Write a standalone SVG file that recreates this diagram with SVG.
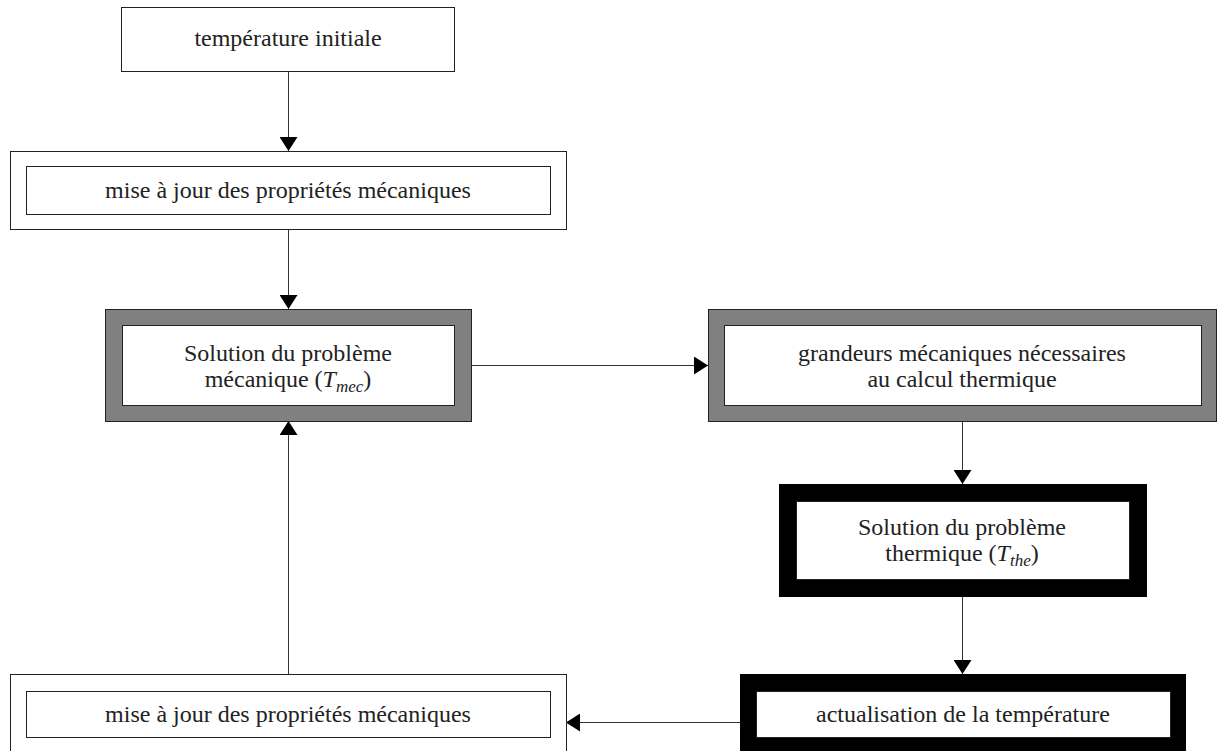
<svg xmlns="http://www.w3.org/2000/svg" width="1218" height="751" viewBox="0 0 1218 751">
<style>
text{font-family:"Liberation Serif","Times New Roman",serif;font-size:24px;fill:#222;text-anchor:middle}
.w{fill:#fff;stroke:#222;stroke-width:1}
.g{fill:#808080;stroke:#222;stroke-width:1}
.k{fill:#000;stroke:#000;stroke-width:1}
.c{stroke:#333;stroke-width:1;fill:none;marker-end:url(#ah)}
.i{font-style:italic}
.s{font-style:italic;font-size:17px}
</style>
<defs>
<marker id="ah" markerUnits="userSpaceOnUse" markerWidth="14" markerHeight="18" refX="14" refY="9" orient="auto">
<path d="M0,0 L14,9 L0,18 z" fill="#000"/>
</marker>
</defs>
<g id="connectors">
<line class="c" x1="288.5" y1="71" x2="288.5" y2="151"/>
<line class="c" x1="288.5" y1="230" x2="288.5" y2="309"/>
<line class="c" x1="471" y1="365.5" x2="708" y2="365.5"/>
<line class="c" x1="962.5" y1="421" x2="962.5" y2="484"/>
<line class="c" x1="962.5" y1="596" x2="962.5" y2="674"/>
<line class="c" x1="740" y1="722.5" x2="566" y2="722.5"/>
<line class="c" x1="288.5" y1="674" x2="288.5" y2="421"/>
</g>
<g id="n1">
<rect class="w" x="121.5" y="7.5" width="333" height="64"/>
<text x="288" y="46">température initiale</text>
</g>
<g id="n2">
<rect class="w" x="10.5" y="151.5" width="556" height="78"/>
<rect class="w" x="26.5" y="166.5" width="524" height="48"/>
<text x="288" y="198">mise à jour des propriétés mécaniques</text>
</g>
<g id="n3">
<rect class="g" x="105.5" y="309.5" width="366" height="112"/>
<rect class="w" x="122.5" y="325.5" width="332" height="80"/>
<text x="288" y="361">Solution du problème</text>
<text x="288" y="387">mécanique (<tspan class="i">T</tspan><tspan class="s" dy="5">mec</tspan><tspan dy="-5">)</tspan></text>
</g>
<g id="n4">
<rect class="g" x="708.5" y="309.5" width="508" height="112"/>
<rect class="w" x="724.5" y="325.5" width="477" height="80"/>
<text x="962" y="361">grandeurs mécaniques nécessaires</text>
<text x="962" y="387">au calcul thermique</text>
</g>
<g id="n5">
<rect class="k" x="779.5" y="484.5" width="367" height="112"/>
<rect class="w" x="796.5" y="501.5" width="333" height="78"/>
<text x="962" y="535">Solution du problème</text>
<text x="962" y="561">thermique (<tspan class="i">T</tspan><tspan class="s" dy="5">the</tspan><tspan dy="-5">)</tspan></text>
</g>
<g id="n6">
<rect class="k" x="740.5" y="674.5" width="445" height="96"/>
<rect class="w" x="756.5" y="691.5" width="414" height="46"/>
<text x="963" y="722">actualisation de la température</text>
</g>
<g id="n7">
<rect class="w" x="10.5" y="674.5" width="556" height="96"/>
<rect class="w" x="26.5" y="691.5" width="524" height="46"/>
<text x="288" y="722">mise à jour des propriétés mécaniques</text>
</g>
</svg>
